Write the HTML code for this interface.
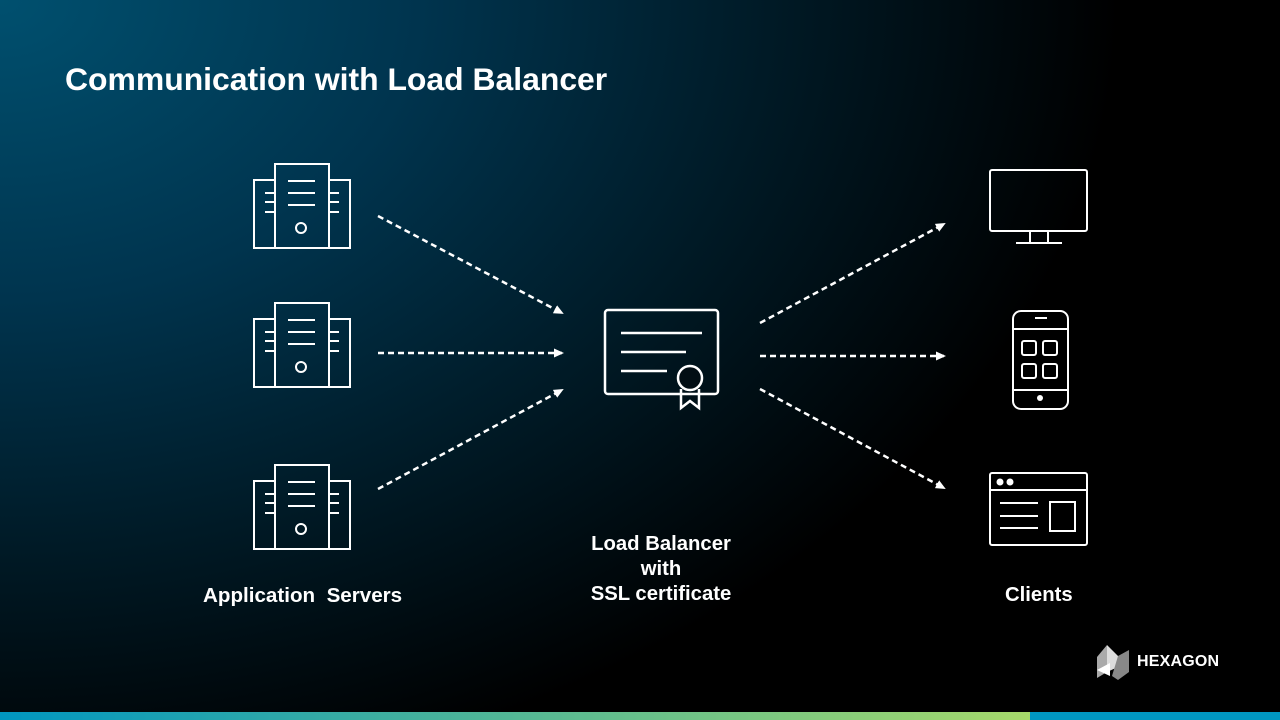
<!DOCTYPE html>
<html><head><style>
body{margin:0;width:1280px;height:720px;overflow:hidden;font-family:"Liberation Sans",sans-serif;}
#bg{position:absolute;left:0;top:0;width:1280px;height:720px;background:radial-gradient(ellipse 1400px 1000px at 0px 0px,#00506f 0%,#00344e 30%,#001a26 55%,#000 80%);}
.t{position:absolute;color:#fff;font-weight:bold;}
</style></head><body>
<div id="bg"></div>
<div class="t" style="left:65px;top:61px;font-size:31.9px;">Communication with Load Balancer</div>
<div class="t" style="left:203px;top:584px;font-size:20.6px;">Application&nbsp; Servers</div>
<div class="t" style="left:560px;top:532px;width:202px;text-align:center;font-size:20.3px;line-height:25px;">Load Balancer<br>with<br>SSL certificate</div>
<div class="t" style="left:1005px;top:584px;font-size:20.3px;">Clients</div>
<div class="t" style="left:1137px;top:653px;font-size:16px;letter-spacing:0.2px;">HEXAGON</div>
<svg width="1280" height="720" style="position:absolute;left:0;top:0">
<defs>
<linearGradient id="bar" x1="0" x2="1"><stop offset="0" stop-color="#0096c0"/><stop offset="1" stop-color="#a6d96a"/></linearGradient>
<marker id="a" markerWidth="10" markerHeight="10" refX="8" refY="5" orient="auto" markerUnits="userSpaceOnUse"><path d="M0,0.5 L10,5 L0,9.5 Z" fill="#fff"/></marker>
<g id="srv" fill="none" stroke="#fff" stroke-width="2">
<rect x="254" y="180" width="21" height="68"/><rect x="329" y="180" width="21" height="68"/>
<rect x="275" y="164" width="54" height="84"/>
<path d="M288 181H315M288 193H315M288 205H315M265 193H275M265 202H275M265 212H275M329 193H339M329 202H339M329 212H339"/>
<circle cx="301" cy="228" r="5"/>
</g>
</defs>
<rect x="0" y="712" width="1030" height="8" fill="url(#bar)"/>
<rect x="1030" y="712" width="250" height="8" fill="#0096c0"/>
<use href="#srv"/><use href="#srv" y="139"/><use href="#srv" y="301"/>
<g stroke="#fff" stroke-width="2.5" stroke-dasharray="6,4" fill="none" marker-end="url(#a)">
<path d="M378 216L562 313"/><path d="M378 353L562 353"/><path d="M378 489L562 390"/>
<path d="M760 323L944 224"/><path d="M760 356L944 356"/><path d="M760 389L944 488"/>
</g>
<g fill="none" stroke="#fff" stroke-width="2.5">
<rect x="605" y="310" width="113" height="84" rx="3"/>
<path d="M621 333H702M621 352H686M621 371H667"/>
<circle cx="690" cy="378" r="12" fill="#020e14"/>
<path d="M681 389V408L690 401L699 408V389"/>
</g>
<g fill="none" stroke="#fff" stroke-width="2">
<rect x="990" y="170" width="97" height="61" rx="2"/>
<path d="M1030 231V242M1048 231V242M1016 243H1062"/>
<rect x="1013" y="311" width="55" height="98" rx="8"/>
<path d="M1014 329H1067M1014 390H1067M1035 318H1047"/>
<rect x="1022" y="341" width="14" height="14" rx="2"/><rect x="1043" y="341" width="14" height="14" rx="2"/>
<rect x="1022" y="364" width="14" height="14" rx="2"/><rect x="1043" y="364" width="14" height="14" rx="2"/>
<rect x="990" y="473" width="97" height="72" rx="2"/>
<path d="M991 490H1086M1000 503H1038M1000 516H1038M1000 528H1038"/>
<rect x="1050" y="502" width="25" height="29"/>
</g>
<circle cx="1040" cy="398" r="3" fill="#fff"/>
<circle cx="1000" cy="482" r="3.5" fill="#fff"/><circle cx="1010" cy="482" r="3.5" fill="#fff"/>
<g>
<polygon points="1097,657 1107,645 1107,672 1097,678" fill="#aaa"/>
<polygon points="1107,645 1118,656 1118,667 1107,672" fill="#ddd"/>
<polygon points="1118,656 1129,650 1129,672 1118,680 1112,676" fill="#888"/>
<polygon points="1097,670 1110,663 1110,676" fill="#fff"/>
</g>
</svg>
</body></html>
